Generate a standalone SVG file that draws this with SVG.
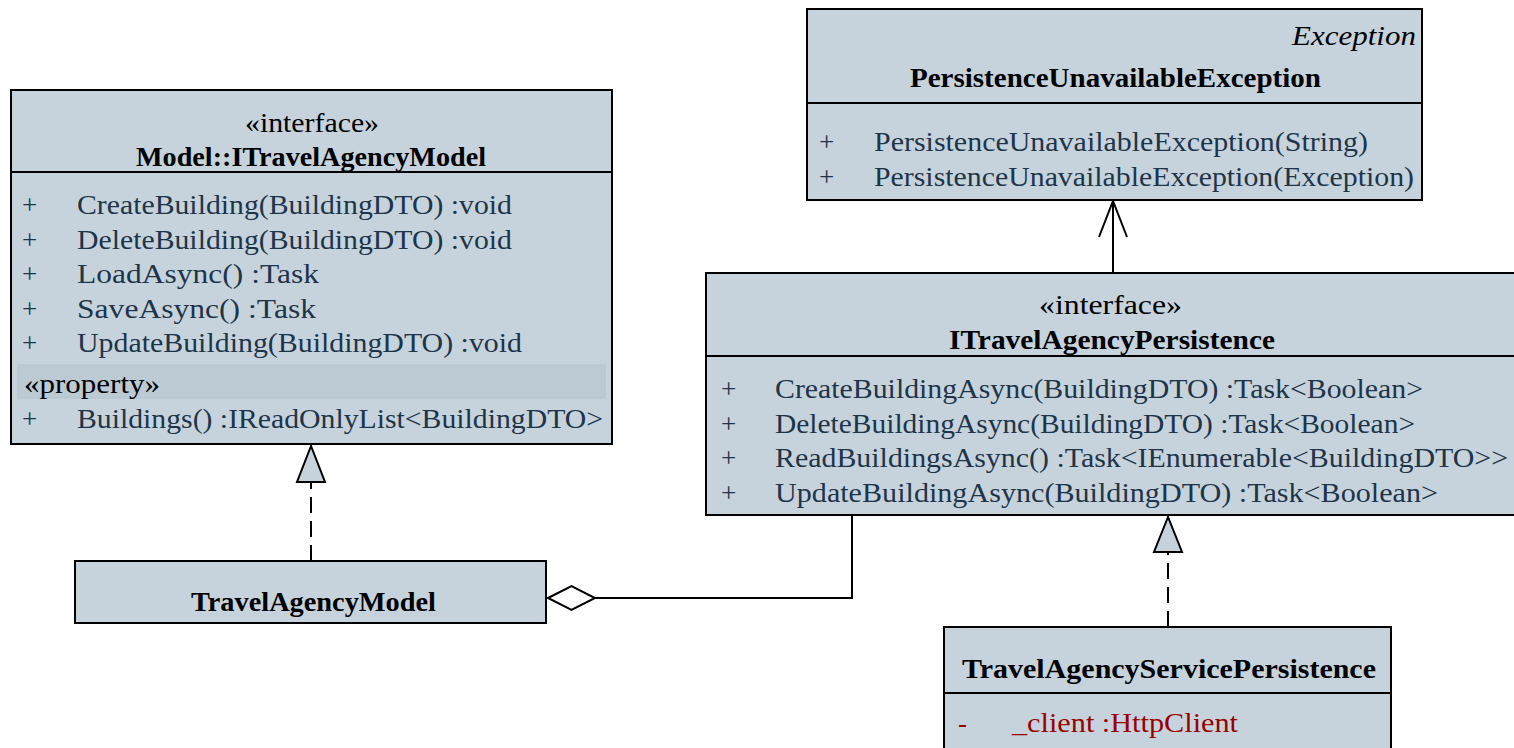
<svg xmlns="http://www.w3.org/2000/svg" width="1514" height="748" viewBox="0 0 1514 748">
<style>
.box{fill:#c6d3dc;stroke:#000;stroke-width:2}
.div{stroke:#000;stroke-width:2}
text{font-family:"Liberation Serif","Times New Roman",serif;font-size:27px}
.op{fill:#1e3549}
.hd{fill:#000}
.b{font-weight:bold;fill:#000}
.it{font-style:italic;fill:#000}
.pr{fill:#990000}
.ln{fill:none;stroke:#000;stroke-width:2}
.dash{stroke-dasharray:16,8}
</style>
<rect width="1514" height="748" fill="#fff"/>
<g id="connectors">
<line class="ln dash" x1="311" y1="561" x2="311" y2="482"/>
<polygon points="311,446 297,482 325,482" fill="#c6d3dc" stroke="#000" stroke-width="2"/>
<line class="ln dash" x1="1168" y1="627" x2="1168" y2="552"/>
<polygon points="1168,517 1154,552 1182,552" fill="#c6d3dc" stroke="#000" stroke-width="2"/>
<polyline class="ln" points="852,515 852,598 595,598"/>
<polygon points="548,598 571.5,586 595,598 571.5,610" fill="#fff" stroke="#000" stroke-width="2"/>
<line class="ln" x1="1113" y1="273" x2="1113" y2="202"/>
<polyline class="ln" points="1099,237 1113,201 1127,237"/>
</g>
<g id="ITravelAgencyModel">
<rect class="box" x="11" y="90" width="601" height="354"/>
<line class="div" x1="11" y1="172" x2="612" y2="172"/>
<text class="hd" x="312" y="132" text-anchor="middle" textLength="134" lengthAdjust="spacingAndGlyphs">«interface»</text>
<text class="b" x="311" y="166" text-anchor="middle" textLength="350" lengthAdjust="spacingAndGlyphs">Model::ITravelAgencyModel</text>
<text class="op" x="22" y="214">+</text><text class="op" x="77" y="214" textLength="435" lengthAdjust="spacingAndGlyphs">CreateBuilding(BuildingDTO) :void</text>
<text class="op" x="22" y="248.5">+</text><text class="op" x="77" y="248.5" textLength="435" lengthAdjust="spacingAndGlyphs">DeleteBuilding(BuildingDTO) :void</text>
<text class="op" x="22" y="283">+</text><text class="op" x="77" y="283" textLength="242" lengthAdjust="spacingAndGlyphs">LoadAsync() :Task</text>
<text class="op" x="22" y="317.5">+</text><text class="op" x="77" y="317.5" textLength="239" lengthAdjust="spacingAndGlyphs">SaveAsync() :Task</text>
<text class="op" x="22" y="352">+</text><text class="op" x="77" y="352" textLength="445" lengthAdjust="spacingAndGlyphs">UpdateBuilding(BuildingDTO) :void</text>
<rect x="18" y="365" width="587" height="33" fill="#bccad4" stroke="#b3c3ce" stroke-width="1"/>
<text class="hd" x="24" y="393" textLength="136" lengthAdjust="spacingAndGlyphs">«property»</text>
<text class="op" x="22" y="428">+</text><text class="op" x="77" y="428" textLength="526" lengthAdjust="spacingAndGlyphs">Buildings() :IReadOnlyList&lt;BuildingDTO&gt;</text>
</g>
<g id="PersistenceUnavailableException">
<rect class="box" x="807" y="9" width="615" height="191"/>
<line class="div" x1="807" y1="103" x2="1422" y2="103"/>
<text class="it" x="1416" y="45" text-anchor="end" textLength="124" lengthAdjust="spacingAndGlyphs">Exception</text>
<text class="b" x="1115.5" y="87" text-anchor="middle" textLength="411" lengthAdjust="spacingAndGlyphs">PersistenceUnavailableException</text>
<text class="op" x="819" y="151">+</text><text class="op" x="874" y="151" textLength="494" lengthAdjust="spacingAndGlyphs">PersistenceUnavailableException(String)</text>
<text class="op" x="819" y="186">+</text><text class="op" x="874" y="186" textLength="540" lengthAdjust="spacingAndGlyphs">PersistenceUnavailableException(Exception)</text>
</g>
<g id="ITravelAgencyPersistence">
<rect class="box" x="706" y="273" width="830" height="242"/>
<line class="div" x1="706" y1="356" x2="1536" y2="356"/>
<text class="hd" x="1110.5" y="314" text-anchor="middle" textLength="143" lengthAdjust="spacingAndGlyphs">«interface»</text>
<text class="b" x="1112" y="349" text-anchor="middle" textLength="326" lengthAdjust="spacingAndGlyphs">ITravelAgencyPersistence</text>
<text class="op" x="721" y="398">+</text><text class="op" x="775" y="398" textLength="648" lengthAdjust="spacingAndGlyphs">CreateBuildingAsync(BuildingDTO) :Task&lt;Boolean&gt;</text>
<text class="op" x="721" y="432.5">+</text><text class="op" x="775" y="432.5" textLength="640" lengthAdjust="spacingAndGlyphs">DeleteBuildingAsync(BuildingDTO) :Task&lt;Boolean&gt;</text>
<text class="op" x="721" y="467">+</text><text class="op" x="775" y="467" textLength="733" lengthAdjust="spacingAndGlyphs">ReadBuildingsAsync() :Task&lt;IEnumerable&lt;BuildingDTO&gt;&gt;</text>
<text class="op" x="721" y="501.5">+</text><text class="op" x="775" y="501.5" textLength="663" lengthAdjust="spacingAndGlyphs">UpdateBuildingAsync(BuildingDTO) :Task&lt;Boolean&gt;</text>
</g>
<g id="TravelAgencyModel">
<rect class="box" x="75" y="561" width="471" height="62"/>
<text class="b" x="313.5" y="611" text-anchor="middle" textLength="245" lengthAdjust="spacingAndGlyphs">TravelAgencyModel</text>
</g>
<g id="TravelAgencyServicePersistence">
<rect class="box" x="944" y="627" width="447" height="140"/>
<line class="div" x1="944" y1="693" x2="1391" y2="693"/>
<text class="b" x="1169" y="678" text-anchor="middle" textLength="414" lengthAdjust="spacingAndGlyphs">TravelAgencyServicePersistence</text>
<text class="pr" x="958" y="732">-</text><text class="pr" x="1012" y="732" textLength="226" lengthAdjust="spacingAndGlyphs">_client :HttpClient</text>
</g>
</svg>
